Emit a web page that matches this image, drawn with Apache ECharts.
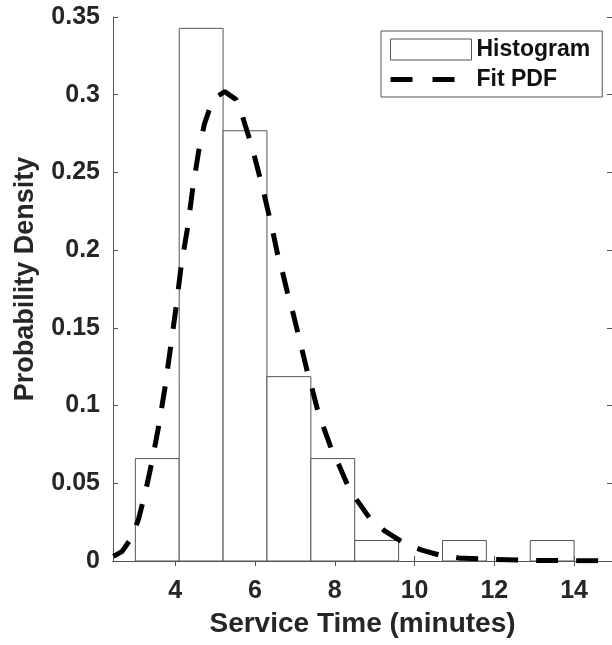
<!DOCTYPE html>
<html>
<head>
<meta charset="utf-8">
<title>Service Time Histogram</title>
<script src="https://cdn.jsdelivr.net/npm/echarts@6/dist/echarts.min.js"></script>
<style>
  html, body { margin: 0; padding: 0; background: #fff; }
  #chart { width: 612px; height: 645px; }
</style>
</head>
<body>
<div id="chart"></div>
<script>
// Histogram bins (minutes) and their probability densities
const binEdges = [3.0, 4.1, 5.2, 6.3, 7.4, 8.5, 9.6, 10.7, 11.8, 12.9, 14.0];
const densities = [0.0659, 0.3427, 0.2768, 0.1186, 0.0659, 0.0132, 0, 0.0132, 0, 0.0132];

// Fitted probability density curve
const fitX = [2.45, 2.66, 2.91, 3.08, 3.24, 3.41, 3.58, 3.74, 3.87, 4.02,
              4.15, 4.32, 4.44, 4.59, 4.73, 4.89, 5.0, 5.24, 5.52, 5.64,
              5.77, 5.93, 6.1, 6.22, 6.31, 6.43, 6.56, 6.67, 6.81, 6.92,
              7.14, 7.31, 7.42, 7.56, 7.72, 7.93, 8.1, 8.35, 8.56, 8.89,
              9.27, 9.77, 10.18, 10.6, 11.1, 12.0, 13.0, 14.0, 14.95];
const fitY = [0.003, 0.006, 0.015, 0.027, 0.043, 0.063, 0.086, 0.111, 0.135, 0.163,
              0.19, 0.216, 0.24, 0.264, 0.281, 0.293, 0.298, 0.302, 0.297, 0.290,
              0.279, 0.266, 0.249, 0.237, 0.227, 0.214, 0.198, 0.188, 0.173, 0.163,
              0.140, 0.122, 0.112, 0.098, 0.086, 0.071, 0.062, 0.047, 0.039, 0.027,
              0.019, 0.011, 0.007, 0.004, 0.002, 0.001, 0.0004, 0.0002, 0.0001];

// Axis ticks
const xTicks = [4, 6, 8, 10, 12, 14];
const xRange = [2.44, 14.95];
const yRange = [0, 0.35];
const yStep = 0.05;

const FONT = "'Liberation Sans', Arial, Helvetica, sans-serif";
const AXIS_COLOR = '#555555';
const TEXT_COLOR = '#262626';
const CLEAR = 'rgba(0,0,0,0)';

const histData = densities.map((d, i) => [binEdges[i], binEdges[i + 1], d]);
const fitData = fitX.map((x, i) => [x, fitY[i]]);

const chart = echarts.init(document.getElementById('chart'), null, { renderer: 'canvas' });

const baseX = {
  type: 'value', min: xRange[0], max: xRange[1],
  axisLine: { show: true, lineStyle: { color: AXIS_COLOR, width: 1 } },
  splitLine: { show: false }
};
const baseY = {
  type: 'value', min: yRange[0], max: yRange[1], interval: yStep,
  axisLine: { show: true, lineStyle: { color: AXIS_COLOR, width: 1 } },
  axisTick: { show: true, inside: true, length: 5, lineStyle: { color: AXIS_COLOR } },
  splitLine: { show: false }
};

chart.setOption({
  backgroundColor: '#ffffff',
  animation: false,
  grid: { left: 113, top: 17, width: 503, height: 544, containLabel: false },
  xAxis: [
    Object.assign({}, baseX, {
      position: 'bottom',
      name: 'Service Time (minutes)',
      nameLocation: 'middle',
      nameGap: 49,
      nameTextStyle: { fontFamily: FONT, fontWeight: 'bold', fontSize: 28, color: TEXT_COLOR },
      axisTick: { show: true, inside: true, length: 5, customValues: xTicks, lineStyle: { color: AXIS_COLOR } },
      axisLabel: { show: true, customValues: xTicks, margin: 18, fontFamily: FONT, fontWeight: 'bold', fontSize: 25, color: TEXT_COLOR }
    }),
    Object.assign({}, baseX, {
      position: 'top',
      axisTick: { show: true, inside: true, length: 5, customValues: xTicks, lineStyle: { color: AXIS_COLOR } },
      axisLabel: { show: false }
    })
  ],
  yAxis: [
    Object.assign({}, baseY, {
      position: 'left',
      name: 'Probability Density',
      nameLocation: 'middle',
      nameGap: 74,
      nameTextStyle: { fontFamily: FONT, fontWeight: 'bold', fontSize: 27, color: TEXT_COLOR, padding: [0, 0, 0, 20] },
      axisLabel: { show: true, margin: 13, fontFamily: FONT, fontWeight: 'bold', fontSize: 25, color: TEXT_COLOR }
    }),
    Object.assign({}, baseY, {
      position: 'right',
      axisLabel: { show: false }
    })
  ],
  legend: {
    orient: 'vertical',
    left: 381, top: 31,
    padding: [7, 12, 6, 7],
    itemWidth: 81, itemHeight: 21, itemGap: 7,
    backgroundColor: '#ffffff',
    borderColor: AXIS_COLOR, borderWidth: 1,
    textStyle: { fontFamily: FONT, fontWeight: 'bold', fontSize: 23, color: '#111111' },
    itemStyle: { borderWidth: 1 },
    lineStyle: { width: 5, type: [22, 20], color: '#000000' },
    data: [
      { name: 'Histogram', icon: 'rect', itemStyle: { color: '#ffffff', borderColor: AXIS_COLOR, borderWidth: 1 } },
      // dashed line only, no marker in the key
      { name: 'Fit PDF', itemStyle: { color: CLEAR, borderColor: CLEAR, borderWidth: 0, opacity: 0 } }
    ]
  },
  series: [
    {
      name: 'Histogram',
      type: 'custom',
      xAxisIndex: 0, yAxisIndex: 0,
      itemStyle: { color: '#ffffff', borderColor: AXIS_COLOR, borderWidth: 1 },
      encode: { x: [0, 1], y: 2 },
      data: histData,
      z: 2,
      renderItem: function (params, api) {
        const x0 = api.value(0), x1 = api.value(1), h = api.value(2);
        if (!(h > 0)) return null;
        const top = api.coord([x0, h]);
        const base = api.coord([x1, 0]);
        return {
          type: 'rect',
          shape: { x: top[0], y: top[1], width: base[0] - top[0], height: base[1] - top[1] },
          style: { fill: '#ffffff', stroke: AXIS_COLOR, lineWidth: 1 }
        };
      }
    },
    {
      name: 'Fit PDF',
      type: 'line',
      xAxisIndex: 0, yAxisIndex: 0,
      data: fitData,
      showSymbol: false,
      symbol: 'none',
      z: 5,
      lineStyle: { color: '#000000', width: 5, type: [22, 18] },
      itemStyle: { color: '#000000' }
    }
  ]
});
</script>
</body>
</html>
